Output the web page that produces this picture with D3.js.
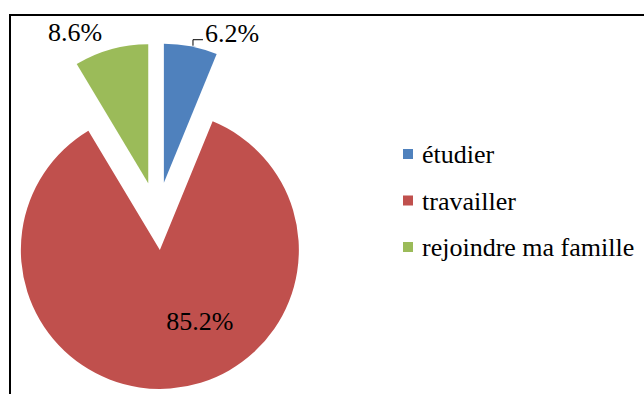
<!DOCTYPE html>
<html>
<head>
<meta charset="utf-8">
<script src="https://cdn.jsdelivr.net/npm/d3@7/dist/d3.min.js"></script>
</head>
<body style="margin:0">
<script>
// Raisons de la migration (parts en %)
const categories = ["étudier", "travailler", "rejoindre ma famille"];
const values = [6.2, 85.2, 8.6];
const colors = ["#4F81BD", "#C0504D", "#9BBB59"];

const W = 644, H = 394;
const svg = d3.select("body").append("svg")
  .attr("width", W).attr("height", H)
  .style("display", "block");

// chart frame
svg.append("rect")
  .attr("x", 10).attr("y", 15)
  .attr("width", W + 20).attr("height", H + 20)
  .attr("fill", "none").attr("stroke", "#000").attr("stroke-width", 2);

const cx = 157.3, cy = 216, R = 139, explode = 34;

const pie = d3.pie().sort(null).value(d => d)
  .startAngle(0).endAngle(2 * Math.PI);
const arcs = pie(values);
const arc = d3.arc().innerRadius(0).outerRadius(R);

const g = svg.append("g").attr("transform", `translate(${cx},${cy})`);

function offset(a) {
  const mid = (a.startAngle + a.endAngle) / 2;
  return [Math.sin(mid) * explode, -Math.cos(mid) * explode];
}

g.selectAll("path.slice").data(arcs).join("path")
  .attr("class", "slice")
  .attr("d", arc)
  .attr("fill", (d, i) => colors[i])
  .attr("transform", d => { const o = offset(d); return `translate(${o[0]},${o[1]})`; });

// data labels: polar placement of the baseline (degrees clockwise from top, distance from centre)
const labelPlace = [
  { angle: 15.3, dist: 180.7, anchor: "start" },
  { angle: 159.5, dist: 121.7, anchor: "middle" },
  { angle: -25.2, dist: 193.4, anchor: "middle" }
];
const fmt = v => v.toFixed(1) + "%";

const labels = g.append("g")
  .attr("font-family", "Liberation Serif").attr("font-size", 26);
arcs.forEach((d, i) => {
  const p = labelPlace[i];
  const t = p.angle * Math.PI / 180;
  labels.append("text")
    .attr("x", Math.sin(t) * p.dist).attr("y", -Math.cos(t) * p.dist)
    .attr("text-anchor", p.anchor)
    .text(fmt(values[i]));
});

// leader line for the small outside label
(function () {
  const p = labelPlace[0];
  const t = p.angle * Math.PI / 180;
  const lx = Math.sin(t) * p.dist, ly = -Math.cos(t) * p.dist;
  g.append("path")
    .attr("d", `M${lx - 2},${ly - 2}H${lx - 12}V${ly + 4}`)
    .attr("fill", "none").attr("stroke", "#000").attr("stroke-width", 1);
})();

// legend
const legend = svg.append("g").attr("transform", "translate(403,163)");
const rows = legend.selectAll("g").data(categories).join("g")
  .attr("transform", (d, i) => `translate(0,${i * 46.5})`);
rows.append("rect")
  .attr("x", 0).attr("y", -14).attr("width", 10).attr("height", 10)
  .attr("fill", (d, i) => colors[i]);
rows.append("text")
  .attr("x", 19).attr("y", 0)
  .attr("font-family", "Liberation Serif").attr("font-size", 26)
  .text(d => d);
</script>
</body>
</html>
